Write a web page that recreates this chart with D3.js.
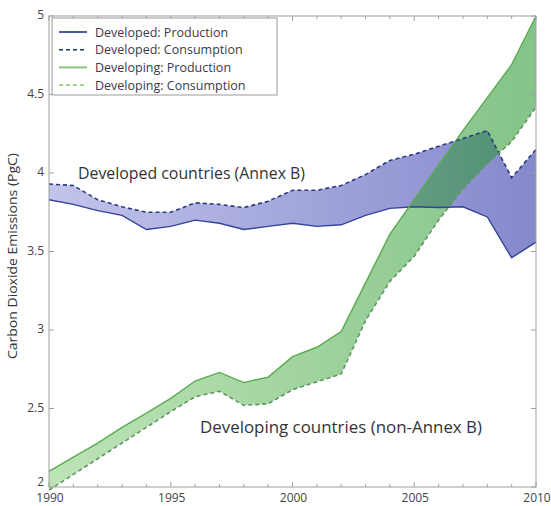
<!DOCTYPE html>
<html><head><meta charset="utf-8">
<script src="https://cdn.jsdelivr.net/npm/d3@7"></script>
<style>
html,body{margin:0;padding:0;background:#fff;}
svg{display:block;font-family:"Open Sans","Noto Sans",sans-serif;}
</style></head>
<body>
<svg id="chart" width="551" height="506"></svg>
<script>
const years = [1990,1991,1992,1993,1994,1995,1996,1997,1998,1999,2000,2001,2002,2003,2004,2005,2006,2007,2008,2009,2010];
const developedProduction  = [3.83,3.80,3.76,3.73,3.64,3.66,3.70,3.68,3.64,3.66,3.68,3.66,3.67,3.73,3.775,3.785,3.78,3.785,3.72,3.46,3.56];
const developedConsumption = [3.93,3.92,3.83,3.785,3.75,3.75,3.81,3.80,3.78,3.82,3.89,3.89,3.92,3.99,4.08,4.12,4.17,4.22,4.27,3.97,4.15];
const developingProduction = [2.10,2.19,2.28,2.38,2.47,2.565,2.675,2.73,2.665,2.70,2.83,2.89,2.99,3.30,3.61,3.83,4.05,4.27,4.48,4.69,5.00];
const developingConsumption= [1.98,2.08,2.18,2.28,2.38,2.48,2.575,2.61,2.52,2.53,2.62,2.67,2.72,3.06,3.31,3.47,3.70,3.90,4.06,4.20,4.42];
const yTicks = [2,2.5,3,3.5,4,4.5,5];
const xTicks = [1990,1995,2000,2005,2010];
const legendLabels = ["Developed: Production","Developed: Consumption","Developing: Production","Developing: Consumption"];
const annotations = ["Developed countries (Annex B)","Developing countries (non-Annex B)"];
const yLabel = "Carbon Dioxide Emissions (PgC)";

const svg = d3.select("#chart");
const L = 49, R = 536, T = 16, B = 487;
const x = d3.scaleLinear().domain([1990,2010]).range([L,R]);
const y = d3.scaleLinear().domain([2,5]).range([B,T]);

const defs = svg.append("defs");
const gb = defs.append("linearGradient").attr("id","gBlue").attr("gradientUnits","userSpaceOnUse")
  .attr("x1",L).attr("x2",R).attr("y1",0).attr("y2",0);
gb.append("stop").attr("offset","0").attr("stop-color","#c2c4eb");
gb.append("stop").attr("offset","1").attr("stop-color","#8589cc");
const gg = defs.append("linearGradient").attr("id","gGreen").attr("gradientUnits","userSpaceOnUse")
  .attr("x1",L).attr("x2",R).attr("y1",0).attr("y2",0);
gg.append("stop").attr("offset","0").attr("stop-color","#7cc86e").attr("stop-opacity",0.5);
gg.append("stop").attr("offset","1").attr("stop-color","#1f9228").attr("stop-opacity",0.55);

const band = (a,b) => d3.area().x((d,i)=>x(years[i])).y0((d,i)=>y(a[i])).y1((d,i)=>y(b[i]))(years);
const line = arr => d3.line().x((d,i)=>x(years[i])).y((d,i)=>y(arr[i]))(years);

svg.append("path").attr("d",band(developedProduction,developedConsumption)).attr("fill","url(#gBlue)");
svg.append("path").attr("d",band(developingConsumption,developingProduction)).attr("fill","url(#gGreen)");

const blue = "#34449a", blueD = "#2a3a7e", green = "#5aab4f", greenD = "#5f9660";
svg.append("path").attr("d",line(developedProduction)).attr("fill","none").attr("stroke",blue).attr("stroke-width",1.4);
svg.append("path").attr("d",line(developedConsumption)).attr("fill","none").attr("stroke",blueD).attr("stroke-width",1.6).attr("stroke-dasharray","4,3");
svg.append("path").attr("d",line(developingProduction)).attr("fill","none").attr("stroke",green).attr("stroke-width",1.4);
svg.append("path").attr("d",line(developingConsumption)).attr("fill","none").attr("stroke",greenD).attr("stroke-width",1.6).attr("stroke-dasharray","4,3");

// box & ticks
const axCol = "#a0a0a0";
svg.append("rect").attr("x",L).attr("y",T).attr("width",R-L).attr("height",B-T).attr("fill","none").attr("stroke",axCol).attr("stroke-width",1);
const minorYears = d3.range(1990,2011);
minorYears.forEach(yr=>{
  const len = (yr%5===0)?5:3;
  svg.append("line").attr("x1",x(yr)).attr("x2",x(yr)).attr("y1",B).attr("y2",B-len).attr("stroke",axCol);
  svg.append("line").attr("x1",x(yr)).attr("x2",x(yr)).attr("y1",T).attr("y2",T+len).attr("stroke",axCol);
});
yTicks.forEach(v=>{
  svg.append("line").attr("x1",L).attr("x2",L+5).attr("y1",y(v)).attr("y2",y(v)).attr("stroke",axCol);
  svg.append("line").attr("x1",R).attr("x2",R-5).attr("y1",y(v)).attr("y2",y(v)).attr("stroke",axCol);
});

const tickCol = "#444";
svg.selectAll(".yt").data(yTicks).enter().append("text")
  .attr("x",L-5).attr("y",d=>y(d)+(d===2?-1.5:3)).attr("text-anchor","end")
  .attr("font-size",12).attr("fill",tickCol).text(d=>d3.format("")(d));
svg.selectAll(".xt").data(xTicks).enter().append("text")
  .attr("x",d=>x(d)+1).attr("y",502).attr("text-anchor","middle")
  .attr("font-size",12).attr("fill",tickCol).text(d=>d);

svg.append("text").attr("transform","translate(17,256) rotate(-90)").attr("text-anchor","middle")
  .attr("font-size",13.5).attr("textLength",206).attr("lengthAdjust","spacingAndGlyphs")
  .attr("fill","#333").text(yLabel);

svg.append("text").attr("x",78).attr("y",179).attr("font-size",17)
  .attr("textLength",227).attr("lengthAdjust","spacingAndGlyphs").attr("fill","#333").text(annotations[0]);
svg.append("text").attr("x",200).attr("y",433).attr("font-size",17)
  .attr("textLength",282).attr("lengthAdjust","spacingAndGlyphs").attr("fill","#333").text(annotations[1]);

// legend
const lg = svg.append("g");
lg.append("rect").attr("x",52).attr("y",18).attr("width",225).attr("height",77).attr("fill","#fff").attr("stroke","#999");
const lStyles = [
  {c:"#4a58a6",dash:null,w:2},
  {c:"#1f2e6e",dash:"4,3",w:1.6},
  {c:"#8cc47c",dash:null,w:2},
  {c:"#9cd08c",dash:"4,3",w:1.8}
];
legendLabels.forEach((t,i)=>{
  const yy = 32 + i*17.7;
  lg.append("line").attr("x1",59).attr("x2",87).attr("y1",yy).attr("y2",yy)
    .attr("stroke",lStyles[i].c).attr("stroke-width",lStyles[i].w).attr("stroke-dasharray",lStyles[i].dash);
  lg.append("text").attr("x",95).attr("y",yy+4.5).attr("font-size",12.5).attr("fill","#3a3a4a").text(t);
});
</script>
</body></html>
